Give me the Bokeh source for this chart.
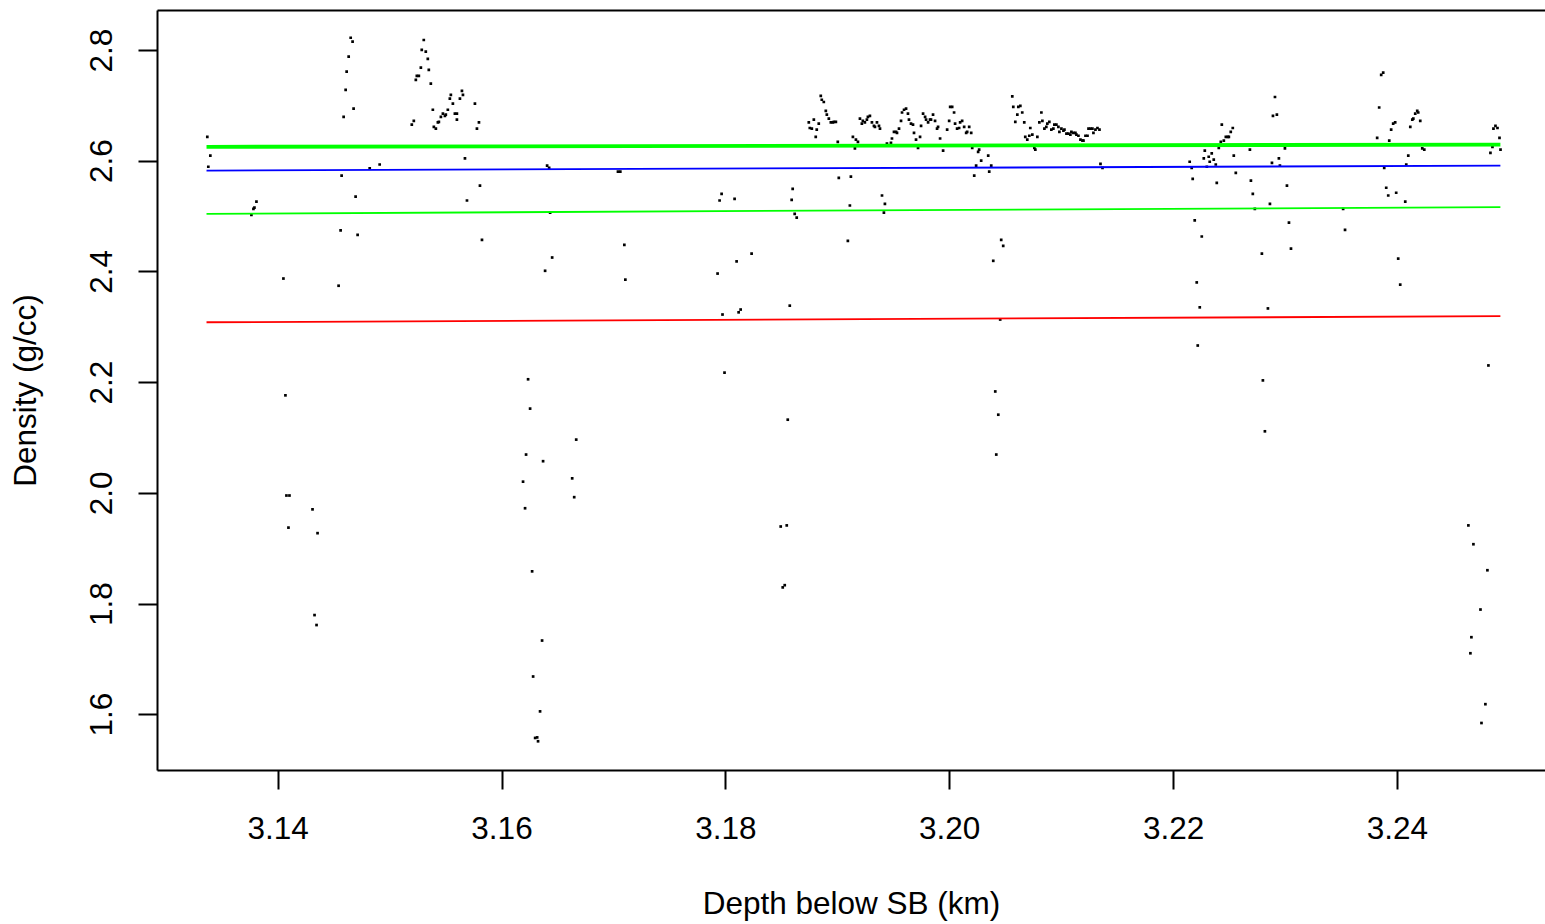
from bokeh.plotting import figure
from bokeh.models import Range1d, FixedTicker, PrintfTickFormatter, LinearAxis
from bokeh.embed import file_html
from bokeh.resources import INLINE

# Density log samples: depth below sea bed (km) and bulk density (g/cc)
depth_km = [
3.13367, 3.13376, 3.13394, 3.13761, 3.13779, 3.13788, 3.13806, 3.14047, 3.14065, 3.14074,
3.14101, 3.14092, 3.14307, 3.14325, 3.14343, 3.14352, 3.14540, 3.14558, 3.14567, 3.14585,
3.14603, 3.14612, 3.14630, 3.14648, 3.14665, 3.14674, 3.14692, 3.14710, 3.14818, 3.14907,
3.15194, 3.15212, 3.15230, 3.15239, 3.15257, 3.15275, 3.15283, 3.15301, 3.15319, 3.15337,
3.15346, 3.15364, 3.15382, 3.15391, 3.15409, 3.15427, 3.15436, 3.15454, 3.15472, 3.15490,
3.15498, 3.15516, 3.15534, 3.15543, 3.15561, 3.15579, 3.15597, 3.15597, 3.15624, 3.15642,
3.15651, 3.15669, 3.15687, 3.15758, 3.15776, 3.15794, 3.15803, 3.15821, 3.16188, 3.16206,
3.16215, 3.16233, 3.16251, 3.16269, 3.16278, 3.16296, 3.16314, 3.16322, 3.16340, 3.16358,
3.16367, 3.16385, 3.16403, 3.16421, 3.16430, 3.16448, 3.16627, 3.16645, 3.16663, 3.17036,
3.17057, 3.17093, 3.17102, 3.17926, 3.17944, 3.17962, 3.17970, 3.17988, 3.18078, 3.18096,
3.18114, 3.18132, 3.18230, 3.18490, 3.18508, 3.18526, 3.18544, 3.18553, 3.18571, 3.18588,
3.18597, 3.18615, 3.18633, 3.18741, 3.18750, 3.18768, 3.18786, 3.18803, 3.18812, 3.18830,
3.18848, 3.18857, 3.18875, 3.18893, 3.18902, 3.18920, 3.18938, 3.18956, 3.18965, 3.18983,
3.19000, 3.19009, 3.19090, 3.19108, 3.19117, 3.19135, 3.19153, 3.19162, 3.19180, 3.19198,
3.19215, 3.19224, 3.19242, 3.19260, 3.19269, 3.19287, 3.19305, 3.19323, 3.19332, 3.19350,
3.19368, 3.19377, 3.19395, 3.19412, 3.19421, 3.19439, 3.19475, 3.19484, 3.19502, 3.19520,
3.19529, 3.19547, 3.19565, 3.19574, 3.19592, 3.19610, 3.19627, 3.19636, 3.19654, 3.19672,
3.19681, 3.19699, 3.19717, 3.19735, 3.19744, 3.19762, 3.19780, 3.19789, 3.19807, 3.19824,
3.19833, 3.19851, 3.19869, 3.19887, 3.19896, 3.19914, 3.19941, 3.19977, 3.19995, 3.20004,
3.20022, 3.20039, 3.20048, 3.20066, 3.20084, 3.20093, 3.20111, 3.20129, 3.20147, 3.20156,
3.20174, 3.20192, 3.20201, 3.20219, 3.20236, 3.20254, 3.20263, 3.20281, 3.20344, 3.20353,
3.20371, 3.20389, 3.20407, 3.20416, 3.20434, 3.20451, 3.20460, 3.20478, 3.20559, 3.20568,
3.20586, 3.20604, 3.20613, 3.20631, 3.20648, 3.20666, 3.20675, 3.20693, 3.20711, 3.20720,
3.20738, 3.20756, 3.20765, 3.20783, 3.20801, 3.20819, 3.20828, 3.20846, 3.20863, 3.20872,
3.20890, 3.20908, 3.20926, 3.20935, 3.20953, 3.20971, 3.20980, 3.20998, 3.21016, 3.21025,
3.21043, 3.21060, 3.21078, 3.21087, 3.21105, 3.21123, 3.21132, 3.21150, 3.21168, 3.21186,
3.21195, 3.21213, 3.21231, 3.21240, 3.21258, 3.21275, 3.21284, 3.21302, 3.21320, 3.21338,
3.21347, 3.21365, 3.22144, 3.22162, 3.22171, 3.22189, 3.22207, 3.22216, 3.22234, 3.22252,
3.22270, 3.22279, 3.22297, 3.22314, 3.22323, 3.22341, 3.22359, 3.22377, 3.22386, 3.22404,
3.22422, 3.22431, 3.22449, 3.22467, 3.22485, 3.22494, 3.22511, 3.22529, 3.22538, 3.22556,
3.22682, 3.22691, 3.22708, 3.22726, 3.22789, 3.22798, 3.22816, 3.22843, 3.22861, 3.22879,
3.22888, 3.22906, 3.22923, 3.22941, 3.22950, 3.22995, 3.23013, 3.23031, 3.23049, 3.23515,
3.23532, 3.23819, 3.23837, 3.23855, 3.23873, 3.23882, 3.23900, 3.23918, 3.23927, 3.23944,
3.23962, 3.23980, 3.23989, 3.24007, 3.24025, 3.24070, 3.24079, 3.24097, 3.24115, 3.24133,
3.24142, 3.24159, 3.24177, 3.24186, 3.24204, 3.24222, 3.24240, 3.24634, 3.24652, 3.24661,
3.24679, 3.24742, 3.24751, 3.24786, 3.24804, 3.24813, 3.24831, 3.24849, 3.24858, 3.24876,
3.24894, 3.24912, 3.24921]

density_gcc = [
2.644, 2.590, 2.610, 2.503, 2.514, 2.516, 2.527, 2.388, 2.177, 1.996,
1.996, 1.938, 1.971, 1.780, 1.762, 1.928, 2.375, 2.475, 2.574, 2.680,
2.729, 2.762, 2.789, 2.823, 2.816, 2.695, 2.536, 2.467, 2.587, 2.594,
2.666, 2.673, 2.747, 2.754, 2.754, 2.769, 2.801, 2.819, 2.798, 2.785,
2.765, 2.740, 2.693, 2.662, 2.659, 2.670, 2.671, 2.680, 2.686, 2.682,
2.684, 2.693, 2.713, 2.720, 2.704, 2.686, 2.686, 2.675, 2.713, 2.727,
2.720, 2.605, 2.529, 2.704, 2.659, 2.670, 2.556, 2.458, 2.021, 1.973,
2.070, 2.206, 2.153, 1.859, 1.669, 1.558, 1.559, 1.552, 1.606, 1.734,
2.058, 2.402, 2.592, 2.588, 2.507, 2.426, 2.027, 1.993, 2.097, 2.581,
2.581, 2.449, 2.386, 2.397, 2.529, 2.541, 2.323, 2.218, 2.532, 2.419,
2.327, 2.332, 2.433, 1.940, 1.830, 1.834, 1.942, 2.133, 2.339, 2.530,
2.550, 2.505, 2.498, 2.670, 2.660, 2.659, 2.675, 2.644, 2.657, 2.668,
2.718, 2.711, 2.707, 2.691, 2.684, 2.677, 2.670, 2.670, 2.671, 2.671,
2.635, 2.570, 2.456, 2.520, 2.572, 2.644, 2.623, 2.639, 2.635, 2.677,
2.668, 2.673, 2.670, 2.675, 2.680, 2.682, 2.670, 2.664, 2.662, 2.670,
2.664, 2.659, 2.538, 2.507, 2.523, 2.632, 2.633, 2.641, 2.653, 2.653,
2.651, 2.659, 2.673, 2.688, 2.693, 2.695, 2.686, 2.675, 2.668, 2.666,
2.651, 2.639, 2.624, 2.644, 2.664, 2.686, 2.680, 2.675, 2.670, 2.675,
2.675, 2.684, 2.673, 2.659, 2.662, 2.641, 2.619, 2.657, 2.673, 2.698,
2.698, 2.688, 2.668, 2.659, 2.660, 2.670, 2.673, 2.662, 2.651, 2.653,
2.662, 2.651, 2.624, 2.574, 2.592, 2.617, 2.621, 2.601, 2.610, 2.581,
2.592, 2.420, 2.184, 2.070, 2.142, 2.314, 2.458, 2.447, 2.717, 2.698,
2.671, 2.684, 2.698, 2.700, 2.688, 2.670, 2.644, 2.639, 2.646, 2.660,
2.648, 2.624, 2.621, 2.644, 2.670, 2.688, 2.673, 2.659, 2.662, 2.668,
2.671, 2.657, 2.659, 2.666, 2.666, 2.662, 2.653, 2.659, 2.655, 2.657,
2.650, 2.650, 2.648, 2.653, 2.651, 2.651, 2.648, 2.646, 2.639, 2.637,
2.637, 2.646, 2.646, 2.659, 2.659, 2.659, 2.651, 2.657, 2.660, 2.657,
2.595, 2.588, 2.599, 2.588, 2.568, 2.493, 2.381, 2.267, 2.336, 2.464,
2.605, 2.619, 2.590, 2.608, 2.599, 2.614, 2.603, 2.594, 2.561, 2.624,
2.635, 2.666, 2.637, 2.644, 2.644, 2.644, 2.653, 2.660, 2.610, 2.579,
2.621, 2.565, 2.541, 2.514, 2.433, 2.204, 2.112, 2.334, 2.523, 2.597,
2.682, 2.716, 2.684, 2.605, 2.592, 2.623, 2.556, 2.489, 2.442, 2.514,
2.476, 2.642, 2.697, 2.756, 2.760, 2.588, 2.552, 2.538, 2.637, 2.657,
2.668, 2.670, 2.543, 2.424, 2.377, 2.527, 2.594, 2.610, 2.662, 2.675,
2.677, 2.686, 2.691, 2.688, 2.673, 2.623, 2.621, 1.942, 1.711, 1.740,
1.908, 1.790, 1.585, 1.619, 1.861, 2.231, 2.615, 2.626, 2.659, 2.664,
2.660, 2.642, 2.621]

# Fitted trend lines (start / end of depth interval)
line_depth = [3.1336, 3.2492]
thick_green_line = [2.626, 2.630]
blue_line = [2.583, 2.592]
thin_green_line = [2.505, 2.517]
red_line = [2.309, 2.320]

x_ticks = [3.14, 3.16, 3.18, 3.20, 3.22, 3.24]
y_ticks = [1.6, 1.8, 2.0, 2.2, 2.4, 2.6, 2.8]

FONT = "Liberation Sans"
FS = "31.5px"

p = figure(width=1545, height=924, output_backend="svg", toolbar_location=None,
           x_range=Range1d(3.129220, 3.253230), y_range=Range1d(1.49919, 2.87227),
           min_border_left=157, min_border_right=0, min_border_top=10, min_border_bottom=154,
           background_fill_color="white", border_fill_color="white")
p.outline_line_color = None
p.xgrid.visible = False
p.ygrid.visible = False

p.scatter(depth_km, density_gcc, marker="square", size=2.7, fill_color="black",
          line_color=None)

p.line(line_depth, thick_green_line, line_color="#00FF00", line_width=3.8)
p.line(line_depth, blue_line, line_color="#0000FF", line_width=1.8)
p.line(line_depth, thin_green_line, line_color="#00FF00", line_width=1.8)
p.line(line_depth, red_line, line_color="#FF0000", line_width=1.8)

for ax in (p.xaxis[0], p.yaxis[0]):
    ax.axis_line_width = 2
    ax.axis_line_color = "black"
    ax.major_tick_line_width = 2
    ax.major_tick_line_color = "black"
    ax.major_tick_out = 19
    ax.major_tick_in = 0
    ax.minor_tick_line_color = None
    ax.major_label_text_font = FONT
    ax.major_label_text_font_size = FS
    ax.major_label_text_color = "black"
    ax.axis_label_text_font = FONT
    ax.axis_label_text_font_size = FS
    ax.axis_label_text_font_style = "normal"
    ax.axis_label_text_color = "black"

xa = p.xaxis[0]
xa.ticker = FixedTicker(ticks=x_ticks)
xa.formatter = PrintfTickFormatter(format="%.2f")
xa.axis_label = "Depth below SB (km)"
xa.major_label_standoff = 27
xa.axis_label_standoff = 43

ya = p.yaxis[0]
ya.ticker = FixedTicker(ticks=y_ticks)
ya.formatter = PrintfTickFormatter(format="%.1f")
ya.axis_label = "Density (g/cc)"
ya.major_label_orientation = "vertical"
ya.major_label_standoff = 26
ya.axis_label_standoff = 45

top = LinearAxis(ticker=FixedTicker(ticks=[]), axis_line_width=2, axis_line_color="black",
                 major_tick_out=0, major_tick_in=0, minor_tick_out=0, minor_tick_in=0,
                 major_label_standoff=0, axis_label_standoff=0)
p.add_layout(top, "above")

open("out.html", "w").write(file_html(p, INLINE))
